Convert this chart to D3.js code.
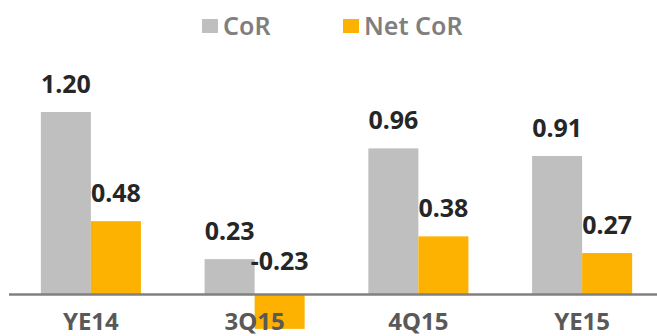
<!DOCTYPE html>
<html>
<head>
<meta charset="utf-8">
<script src="https://cdn.jsdelivr.net/npm/d3@7"></script>
<style>
  html, body { margin: 0; padding: 0; background: #fff; }
  svg { display: block; font-family: "Noto Sans", "Open Sans", sans-serif; }
</style>
</head>
<body>
<svg id="chart" width="657" height="336"></svg>
<script>
// Cost of risk by period (%)
const categories = ["YE14", "3Q15", "4Q15", "YE15"];
const seriesNames = ["CoR", "Net CoR"];
const corValues = [1.20, 0.23, 0.96, 0.91];
const netCorValues = [0.48, -0.23, 0.38, 0.27];
const colors = ["#BFBFBF", "#FDB100"];

const svg = d3.select("#chart");

const x = d3.scaleBand()
  .domain(categories)
  .range([9, 664])
  .paddingInner(0.389)
  .paddingOuter(0.1945);

const sub = d3.scaleBand()
  .domain(seriesNames)
  .range([0, x.bandwidth()]);

const y = d3.scaleLinear()
  .domain([0, 1.2])
  .range([294, 112]);

const rows = categories.map((c, i) => ({
  cat: c,
  vals: [
    { name: seriesNames[0], v: corValues[i] },
    { name: seriesNames[1], v: netCorValues[i] }
  ]
}));

const groups = svg.append("g").selectAll("g")
  .data(rows)
  .join("g")
  .attr("transform", d => `translate(${x(d.cat)},0)`);

groups.selectAll("rect")
  .data(d => d.vals)
  .join("rect")
  .attr("x", d => sub(d.name))
  .attr("width", sub.bandwidth())
  .attr("y", d => y(Math.max(0, d.v)))
  .attr("height", d => Math.abs(y(d.v) - y(0)))
  .attr("fill", (d, i) => colors[i]);

// value labels
groups.selectAll("text.val")
  .data(d => d.vals)
  .join("text")
  .attr("class", "val")
  .attr("x", d => sub(d.name) + sub.bandwidth() / 2)
  .attr("y", d => d.v >= 0 ? y(d.v) - 19 : y(0) - 24)
  .attr("text-anchor", "middle")
  .attr("font-size", 25)
  .attr("font-weight", 700)
  .attr("fill", "#262626")
  .text(d => d3.format(".2f")(d.v).replace("−", "-"));

// zero axis line
svg.append("line")
  .attr("x1", 9).attr("x2", 657)
  .attr("y1", y(0) + 0.5).attr("y2", y(0) + 0.5)
  .attr("stroke", "#808080")
  .attr("stroke-width", 2.5);

// category labels
svg.append("g").selectAll("text")
  .data(categories)
  .join("text")
  .attr("x", d => x(d) + x.bandwidth() / 2)
  .attr("y", 330)
  .attr("text-anchor", "middle")
  .attr("font-size", 24)
  .attr("font-weight", 700)
  .attr("fill", "#595959")
  .text(d => d);

// legend
const legendX = [202, 343];
const legend = svg.append("g").selectAll("g")
  .data(seriesNames)
  .join("g")
  .attr("transform", (d, i) => `translate(${legendX[i]},0)`);
legend.append("rect")
  .attr("x", 0).attr("y", 19)
  .attr("width", 16).attr("height", 14)
  .attr("fill", (d, i) => colors[i]);
legend.append("text")
  .attr("x", 21).attr("y", 35)
  .attr("font-size", 25)
  .attr("font-weight", 600)
  .attr("fill", "#7F7F7F")
  .text(d => d);
</script>
</body>
</html>
